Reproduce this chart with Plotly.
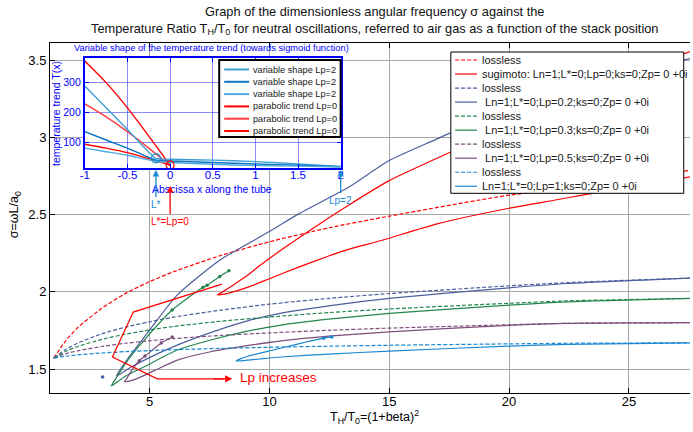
import plotly.graph_objects as go

# ---------------- data ----------------
# lossless curves (dashed) - shared abscissa T_H/T_0
LOSSLESS_X = [1.0, 1.5, 2, 3, 4, 5, 6, 8, 10, 12.5, 15, 20, 22.5, 27.55]
LOSSLESS_LP0 = [1.571, 1.683, 1.768, 1.893, 1.99, 2.066, 2.13, 2.237, 2.324, 2.415, 2.49, 2.626, 2.668, 2.787]
LOSSLESS_LP02 = [1.571, 1.627, 1.668, 1.728, 1.772, 1.806, 1.836, 1.882, 1.92, 1.958, 1.989, 2.039, 2.06, 2.089]
LOSSLESS_LP03 = [1.571, 1.615, 1.646, 1.692, 1.726, 1.753, 1.776, 1.81, 1.837, 1.866, 1.889, 1.926, 1.942, 1.957]
LOSSLESS_LP05 = [1.571, 1.599, 1.618, 1.646, 1.667, 1.683, 1.697, 1.718, 1.734, 1.751, 1.765, 1.787, 1.796, 1.80]
LOSSLESS_LP1 = [1.571, 1.583, 1.592, 1.604, 1.613, 1.620, 1.625, 1.634, 1.641, 1.648, 1.654, 1.663, 1.667, 1.670]

# solid (with losses) curves: upper branch -> tip -> lower branch
SUG_LP0_X = [27.55, 25, 22.5, 20, 17.5, 15, 13.3, 12, 10.67, 9.6, 9.0, 8.4, 8.0, 7.82,
             8.1, 8.6, 9.14, 10.0, 11.22, 12.47, 13.3, 14.7, 17.0, 20.0, 22.0, 23.0, 25.0, 27.55]
SUG_LP0_Y = [3.555, 3.41, 3.25, 3.07, 2.90, 2.72, 2.561, 2.43, 2.29, 2.17, 2.097, 2.035, 1.995, 1.98,
             1.985, 2.005, 2.032, 2.085, 2.16, 2.232, 2.275, 2.334, 2.44, 2.541, 2.596, 2.625, 2.68, 2.744]

LP02_X = [27.55, 24.0, 21.6, 19.0, 17.0, 15.0, 13.3, 11.2, 10.0, 8.0, 6.15, 4.78, 4.1, 3.75, 3.62,
          3.8, 4.2, 4.78, 6.0, 7.07, 8.94, 10.5, 12.47, 15, 20, 22.44, 27.55]
LP02_Y = [3.51, 3.38, 3.272, 3.13, 2.99, 2.85, 2.677, 2.503, 2.39, 2.212, 1.979, 1.707, 1.57, 1.49, 1.455,
          1.47, 1.51, 1.558, 1.645, 1.71, 1.806, 1.862, 1.909, 1.957, 2.026, 2.054, 2.089]

LP03_X = [8.31, 7.93, 7.40, 7.23, 5.94, 4.78, 4.09, 3.6, 3.4,
          3.55, 4.0, 4.78, 6.16, 7.55, 8.94, 10.5, 12.47, 15, 20, 22.44, 27.55]
LP03_Y = [2.136, 2.10, 2.043, 2.03, 1.882, 1.688, 1.558, 1.44, 1.39,
          1.405, 1.455, 1.515, 1.623, 1.688, 1.741, 1.785, 1.823, 1.86, 1.914, 1.935, 1.957]

LP05_X = [5.95, 5.49, 4.81, 4.57, 4.25, 4.05, 3.95,
          4.1, 4.5, 5.2, 6.16, 7.55, 8.94, 10.5, 12.47, 15, 20, 22.44, 27.55]
LP05_Y = [1.707, 1.668, 1.584, 1.554, 1.49, 1.44, 1.418,
          1.42, 1.44, 1.49, 1.558, 1.612, 1.648, 1.682, 1.713, 1.741, 1.783, 1.796, 1.80]

LP1_X = [12.6, 12.26, 11.0, 9.8, 9.0, 8.6, 9.0, 9.6, 10.5, 12.47, 15, 20, 22.44, 27.55]
LP1_Y = [1.707, 1.70, 1.655, 1.61, 1.578, 1.552, 1.556, 1.565, 1.578, 1.597, 1.616, 1.649, 1.66, 1.67]

# isolated computed points (dots)
LP02_DOT_X = [3.04]
LP02_DOT_Y = [1.448]
LP03_DOT_X = [5.94, 7.23, 7.40, 7.93, 8.31]
LP03_DOT_Y = [1.882, 2.03, 2.043, 2.10, 2.136]
LP05_DOT_X = [4.57, 4.81, 5.49, 5.95]
LP05_DOT_Y = [1.554, 1.584, 1.668, 1.707]
LP1_DOT_X = [12.26, 12.6]
LP1_DOT_Y = [1.70, 1.707]

# "Lp increases" hand-drawn guide (data coordinates)
GUIDE_X = [8.02, 4.32, 3.45, 5.32, 8.1]
GUIDE_Y = [2.05, 1.869, 1.578, 1.437, 1.437]

# inset: temperature trend T(x) along the tube
INSET_XP = [-1, -0.75, -0.5, -0.25, 0]
PARAB_1 = [372, 300, 216, 122, 25]
PARAB_2 = [229, 186, 137, 82, 25]
PARAB_3 = [95, 82, 67, 47, 25]
INSET_XV = [-1, -0.75, -0.5, -0.17, 0, 0.5, 1, 1.5, 2]
VAR_1 = [289, 216, 144, 48, 45, 42, 37, 29, 21]
VAR_2 = [137, 109, 82, 42, 39, 34, 29, 25, 20]
VAR_3 = [82, 70, 58, 38, 34, 28, 24, 22, 19]
LSTAR_MARK = (-0.166, 48)
LP0_MARK = (0.0, 25)

MAIN_XTICKS = [5, 10, 15, 20, 25]
MAIN_YTICKS = [1.5, 2, 2.5, 3, 3.5]
MAIN_YTICKTEXT = ['1.5', '2', '2.5', '3', '3.5']
INSET_XTICKS = [-1, -0.5, 0, 0.5, 1, 1.5, 2]
INSET_XTICKTEXT = ['-1', '-0.5', '0', '0.5', '1', '1.5', '2']
INSET_YTICKS = [100, 200, 300]

# ---------------- styling / layout helpers ----------------
FONT = 'Liberation Sans, Arial, sans-serif'
W, H = 693, 432
ML, MR, MT, MB = 50, 0, 43, 39
PW, PH = W - ML - MR, H - MT - MB


def pxx(p):
    return (p - ML) / PW


def pxy(p):
    return (H - MB - p) / PH


RED = '#ff0000'
BLUEG = '#4b5e9d'
GREEN = '#24864f'
PURPLE = '#7b4f7c'
LBLUE = '#1a88d2'
DASH = '4px,2px'

main_series = [
    ('lossless', LOSSLESS_X, LOSSLESS_LP0, RED, DASH),
    ('sugimoto: Ln=1;L*=0;Lp=0;ks=0;Zp= 0 +0i', SUG_LP0_X, SUG_LP0_Y, RED, 'solid'),
    ('lossless', LOSSLESS_X, LOSSLESS_LP02, BLUEG, DASH),
    ('\u00a0Ln=1;L*=0;Lp=0.2;ks=0;Zp= 0 +0i', LP02_X, LP02_Y, BLUEG, 'solid'),
    ('lossless', LOSSLESS_X, LOSSLESS_LP03, GREEN, DASH),
    ('\u00a0Ln=1;L*=0;Lp=0.3;ks=0;Zp= 0 +0i', LP03_X, LP03_Y, GREEN, 'solid'),
    ('lossless', LOSSLESS_X, LOSSLESS_LP05, PURPLE, DASH),
    ('\u00a0Ln=1;L*=0;Lp=0.5;ks=0;Zp= 0 +0i', LP05_X, LP05_Y, PURPLE, 'solid'),
    ('lossless', LOSSLESS_X, LOSSLESS_LP1, LBLUE, DASH),
    ('Ln=1;L*=0;Lp=1;ks=0;Zp= 0 +0i', LP1_X, LP1_Y, LBLUE, 'solid'),
]
dot_series = [
    (LP02_DOT_X, LP02_DOT_Y, BLUEG),
    (LP03_DOT_X, LP03_DOT_Y, GREEN),
    (LP05_DOT_X, LP05_DOT_Y, PURPLE),
    (LP1_DOT_X, LP1_DOT_Y, LBLUE),
]
inset_series = [
    ('variable shape Lp=2', INSET_XV, VAR_1, '#3d9fd6'),
    ('variable shape Lp=2', INSET_XV, VAR_2, '#0a74c0'),
    ('variable shape Lp=2', INSET_XV, VAR_3, '#4eaadf'),
    ('parabolic trend Lp=0', INSET_XP, PARAB_1, '#ff0000'),
    ('parabolic trend Lp=0', INSET_XP, PARAB_2, '#ff3b3b'),
    ('parabolic trend Lp=0', INSET_XP, PARAB_3, '#ff0000'),
]

fig = go.Figure()
for name, xs, ys, col, dash in main_series:
    fig.add_trace(go.Scatter(x=xs, y=ys, mode='lines', name=name, showlegend=False,
                             line=dict(color=col, width=1.2, dash=dash, shape='spline', smoothing=0.6)))
for xs, ys, col in dot_series:
    fig.add_trace(go.Scatter(x=xs, y=ys, mode='markers', showlegend=False,
                             marker=dict(color=col, size=3.5)))
# inset traces (parabolic first so blue on top like reference)
for name, xs, ys, col in inset_series[3:] + inset_series[:3]:
    fig.add_trace(go.Scatter(x=xs, y=ys, mode='lines', name=name, showlegend=False,
                             xaxis='x2', yaxis='y2',
                             line=dict(color=col, width=1.4, shape='spline', smoothing=0.5)))
fig.add_trace(go.Scatter(x=[LSTAR_MARK[0]], y=[LSTAR_MARK[1]], mode='markers', showlegend=False,
                         xaxis='x2', yaxis='y2',
                         marker=dict(symbol='circle-open', size=9, color='#1a88d2', line=dict(width=1.2))))
fig.add_trace(go.Scatter(x=[LP0_MARK[0]], y=[LP0_MARK[1]], mode='markers', showlegend=False,
                         xaxis='x2', yaxis='y2',
                         marker=dict(symbol='circle-open', size=8, color='#ff0000', line=dict(width=1.2))))

shapes = []
annotations = []


def label(xp, yp, text, size, color, angle=0, anchor='center'):
    annotations.append(dict(x=pxx(xp), y=pxy(yp), xref='paper', yref='paper', text=text,
                            showarrow=False, xanchor=anchor, yanchor='middle', textangle=angle,
                            font=dict(family=FONT, size=size, color=color)))


# guide polyline "Lp increases"
path = 'M ' + ' L '.join(f'{x},{y}' for x, y in zip(GUIDE_X, GUIDE_Y))
shapes.append(dict(type='path', path=path, xref='x', yref='y', layer='above',
                   line=dict(color=RED, width=1.2)))
annotations.append(dict(x=GUIDE_X[-1] + 0.35, y=GUIDE_Y[-1], xref='x', yref='y',
                        ax=GUIDE_X[-1] - 0.5, ay=GUIDE_Y[-1], axref='x', ayref='y',
                        text='', showarrow=True, arrowhead=2, arrowsize=1.2, arrowwidth=1.2,
                        arrowcolor=RED))
annotations.append(dict(x=10.39, y=1.447, xref='x', yref='y', text='Lp increases', showarrow=False,
                        xanchor='center', yanchor='middle',
                        font=dict(family=FONT, size=13.5, color=RED)))

# main legend (drawn manually for compact MATLAB-like rows)
LG_L, LG_R, LG_T, LG_B = 452.7, 686.7, 52, 193.3
shapes.append(dict(type='rect', xref='paper', yref='paper', x0=pxx(LG_L), x1=pxx(LG_R),
                   y0=pxy(LG_B), y1=pxy(LG_T), fillcolor='white', line=dict(color='black', width=1),
                   layer='above'))
for i, (name, xs, ys, col, dash) in enumerate(main_series):
    yrow = 60 + 14.03 * i
    shapes.append(dict(type='line', xref='paper', yref='paper', x0=pxx(457), x1=pxx(479),
                       y0=pxy(yrow), y1=pxy(yrow), line=dict(color=col, width=1.2, dash=dash),
                       layer='above'))
    label(482.5, yrow, name, 11, '#202020', anchor='left')

# inset legend
IL_L, IL_R, IL_T, IL_B = 220, 342, 60, 137
shapes.append(dict(type='rect', xref='paper', yref='paper', x0=pxx(IL_L), x1=pxx(IL_R),
                   y0=pxy(IL_B), y1=pxy(IL_T), fillcolor='white', line=dict(color='black', width=2),
                   layer='above'))
for i, (name, xs, ys, col) in enumerate(inset_series):
    yrow = 69.5 + 12.3 * i
    shapes.append(dict(type='line', xref='paper', yref='paper', x0=pxx(225), x1=pxx(250),
                       y0=pxy(yrow), y1=pxy(yrow), line=dict(color=col, width=2), layer='above'))
    label(251.5, yrow, name, 9.2, '#202020', anchor='left')

BLUE = '#0000ff'
# inset title and labels
label(212, 48, 'Variable shape of the temperature trend (towards sigmoid function)', 9.3, BLUE)
label(56, 113, 'temperature trend T(x)', 10.5, BLUE, angle=-90)
label(213, 189, 'Abscissa x along the tube', 10.5, BLUE)

# inset arrows
annotations.append(dict(x=LSTAR_MARK[0], y=pxy(170), xref='x2', yref='paper', ax=0, ay=34,
                        text='L*', showarrow=True, arrowhead=2, arrowwidth=1.3, arrowcolor='#1a8ad4',
                        font=dict(family=FONT, size=10, color='#1a8ad4')))
annotations.append(dict(x=LP0_MARK[0], y=pxy(186), xref='x2', yref='paper', ax=0, ay=35,
                        text='L*=Lp=0', showarrow=True, arrowhead=2, arrowwidth=1.3, arrowcolor=RED,
                        font=dict(family=FONT, size=10, color=RED)))
annotations.append(dict(x=2, y=pxy(170), xref='x2', yref='paper', ax=0, ay=30,
                        text='Lp=2', showarrow=True, arrowhead=2, arrowwidth=1.3, arrowcolor='#1a8ad4',
                        font=dict(family=FONT, size=10, color='#1a8ad4')))

# titles and axis labels
label(376, 20, 'Graph of the dimensionless angular frequency σ against the<br>'
               'Temperature Ratio T<sub>H</sub>/T<sub>0</sub> for neutral oscillations, '
               'referred to air gas as a function of the stack position', 12.8, '#111111')
label(376, 417, 'T<sub>H</sub>/T<sub>0</sub>=(1+beta)<sup>2</sup>', 12.5, 'black')
label(15, 215, 'σ=ωL/a<sub>0</sub>', 12.5, 'black', angle=-90)

fig.update_layout(
    width=W, height=H,
    margin=dict(l=ML, r=MR, t=MT, b=MB, pad=0),
    paper_bgcolor='white', plot_bgcolor='white',
    font=dict(family=FONT, size=12, color='black'),
    showlegend=False,
    xaxis=dict(domain=[0, 1], range=[0.845, 27.55], tickvals=MAIN_XTICKS, ticks='inside',
               ticklen=5, tickcolor='black', showline=True, linecolor='black', linewidth=1,
               mirror='ticks', showgrid=True, gridcolor='#a8a8a8', gridwidth=1, zeroline=False,
               ticklabelstandoff=-4,
               tickfont=dict(family=FONT, size=13, color='black')),
    yaxis=dict(domain=[0, 1], range=[1.345, 3.611], tickvals=MAIN_YTICKS, ticktext=MAIN_YTICKTEXT,
               ticks='inside', ticklen=5, tickcolor='black', showline=True, linecolor='black',
               linewidth=1, mirror=False, showgrid=True, gridcolor='#a8a8a8', gridwidth=1,
               zeroline=False, tickfont=dict(family=FONT, size=13, color='black')),
    xaxis2=dict(domain=[pxx(85), pxx(342)], anchor='y2', range=[-1, 2], tickvals=INSET_XTICKS,
                ticktext=INSET_XTICKTEXT, ticks='inside', ticklen=4, tickcolor=BLUE,
                showline=True, linecolor=BLUE, linewidth=2, mirror='ticks', showgrid=True,
                gridcolor='rgba(60,60,255,0.6)', gridwidth=1, zeroline=False,
                ticklabelstandoff=-5,
                tickfont=dict(family=FONT, size=11.5, color=BLUE)),
    yaxis2=dict(domain=[pxy(168), pxy(58)], anchor='x2', range=[15.7, 382], tickvals=INSET_YTICKS,
                ticks='inside', ticklen=4, tickcolor=BLUE, showline=True, linecolor=BLUE,
                linewidth=2, mirror='ticks', showgrid=True, gridcolor='rgba(60,60,255,0.6)',
                gridwidth=1, zeroline=False, tickfont=dict(family=FONT, size=10.5, color=BLUE)),
    shapes=shapes,
    annotations=annotations,
)

fig.write_html('out.html')
